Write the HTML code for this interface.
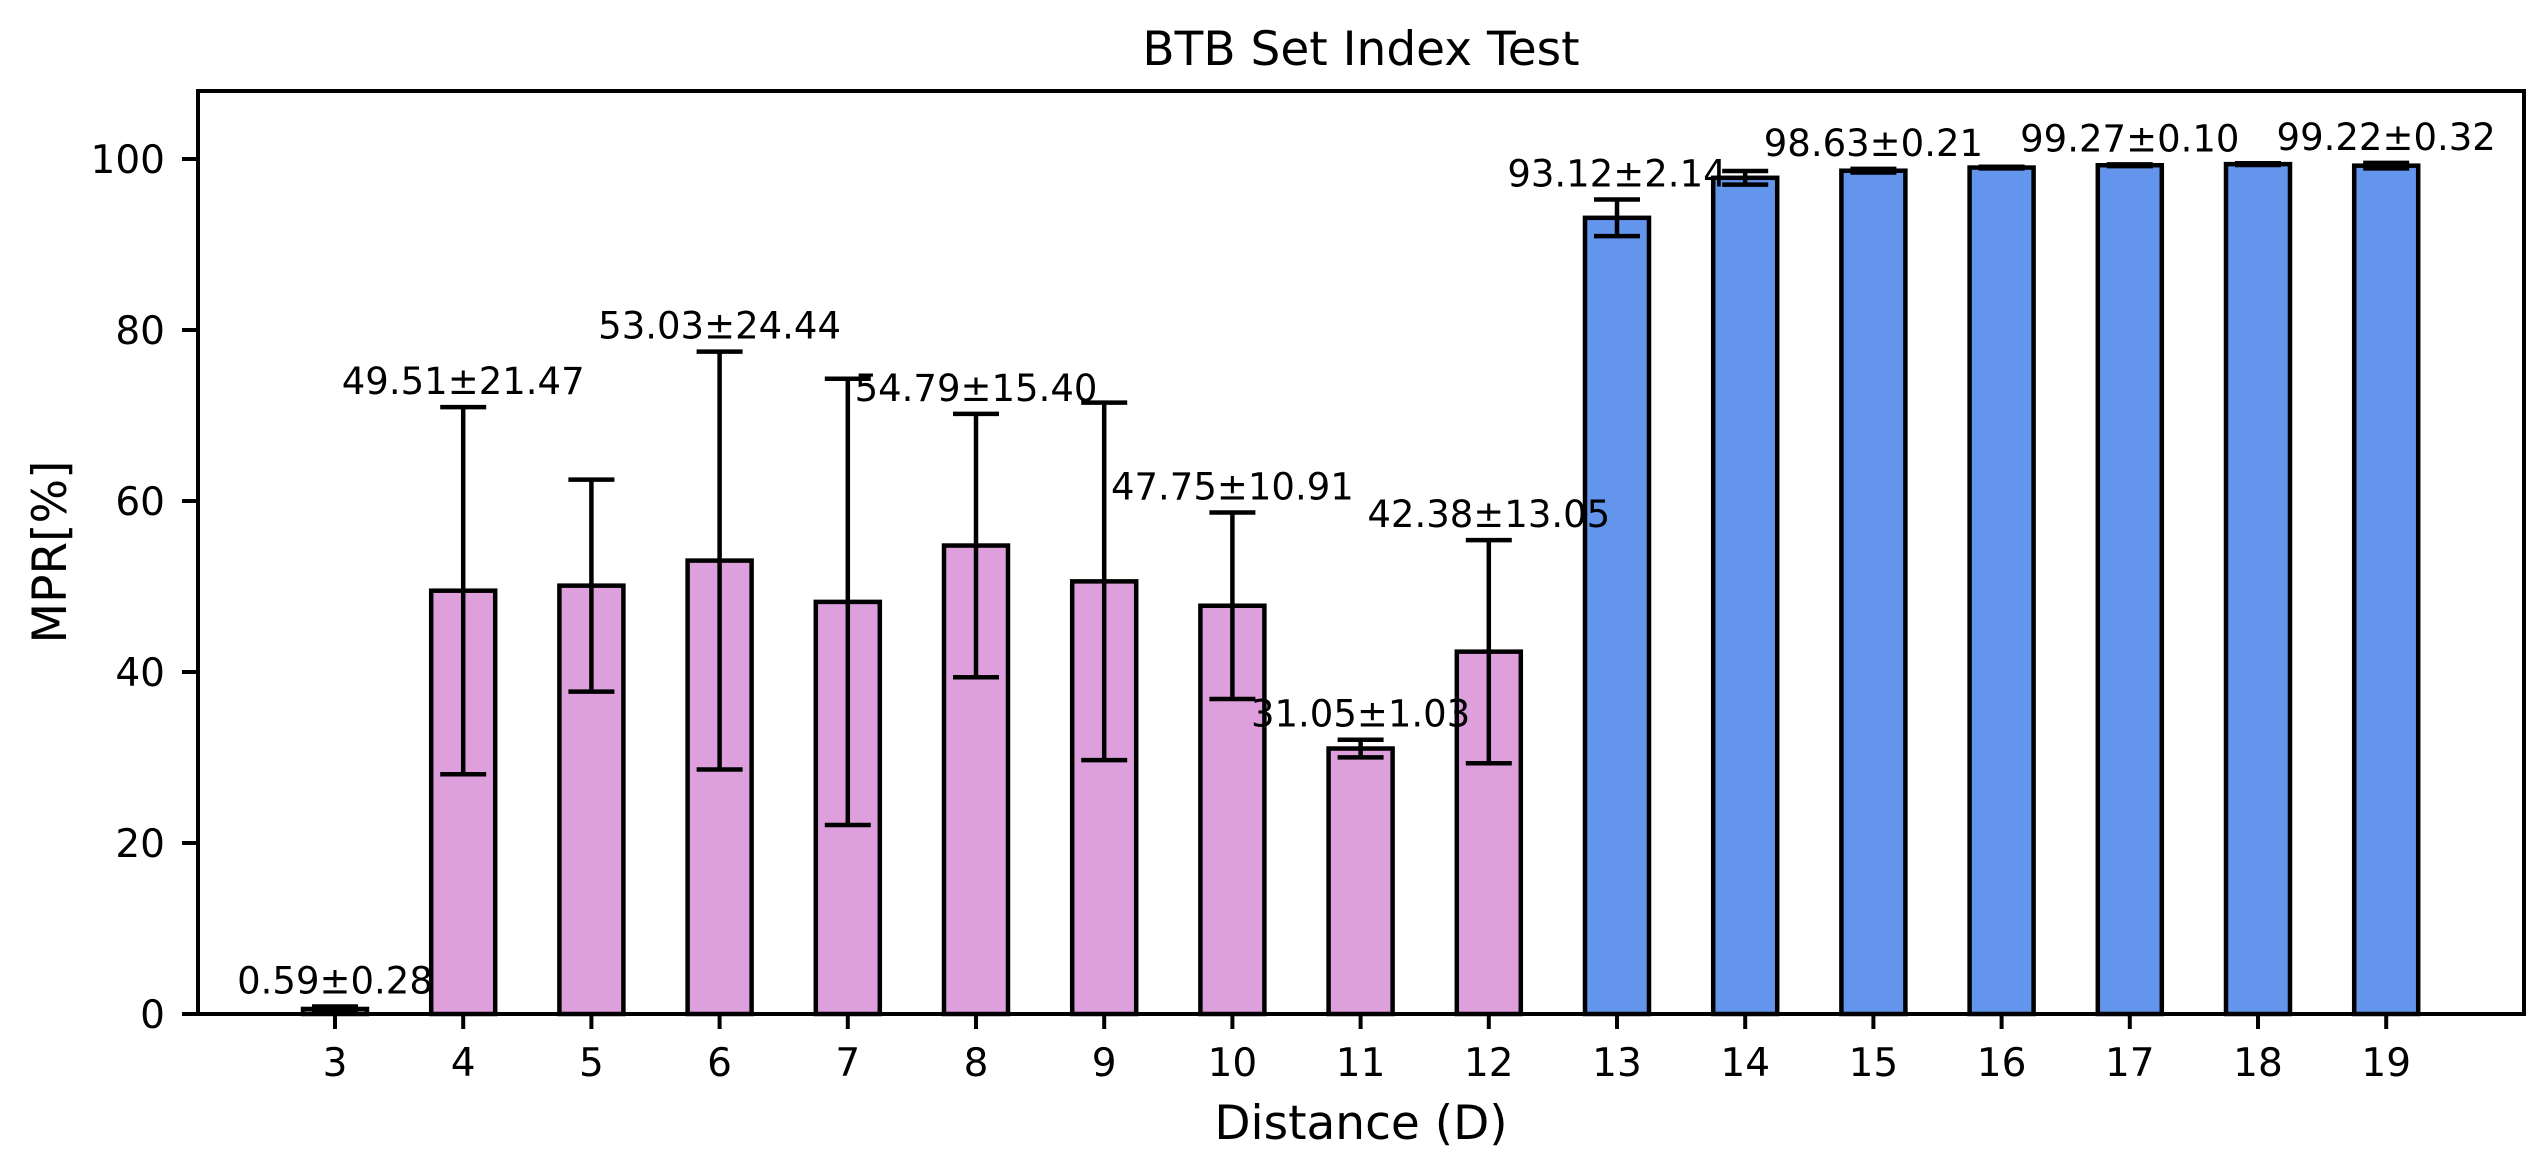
<!DOCTYPE html>
<html><head><meta charset="utf-8"><style>
html,body{margin:0;padding:0;background:#fff;}
svg text{font-family:"DejaVu Sans","Liberation Sans",sans-serif;fill:#000;}
</style></head><body>
<svg id="chart" width="2545" height="1167" xmlns="http://www.w3.org/2000/svg">
<rect x="0" y="0" width="2545" height="1167" fill="#fff"/>
<text x="1361" y="65" font-size="47" text-anchor="middle">BTB Set Index Test</text>
<text x="1361" y="1139" font-size="47" text-anchor="middle">Distance (D)</text>
<text x="0" y="0" font-size="47" text-anchor="middle" transform="translate(66,552) rotate(-90)">MPR[%]</text>
<g id="bars"></g>
<g id="errs"></g>
<g id="labels"></g>
<g id="axes"></g>
</svg>
<script>
const categories = [3,4,5,6,7,8,9,10,11,12,13,14,15,16,17,18,19];
const means = [0.59,49.51,50.1,53.03,48.2,54.79,50.6,47.75,31.05,42.38,93.12,97.8,98.63,99.0,99.27,99.4,99.22];
const errors = [0.28,21.47,12.4,24.44,26.1,15.40,20.9,10.91,1.03,13.05,2.14,0.8,0.21,0.1,0.10,0.1,0.32];
const annotated = [true,true,false,true,false,true,false,true,true,true,true,false,true,false,true,false,true];
const yTicks = [0,20,40,60,80,100];
const blueFrom = 13;

const L=198,R=2524,T=91,B=1014;
const xs = c => 335 + (c-3)*128.2;
const ys = v => B - v*8.55;
const NS="http://www.w3.org/2000/svg";
function mk(tag, attrs, parent){const e=document.createElementNS(NS,tag);for(const k in attrs)e.setAttribute(k,attrs[k]);document.getElementById(parent).appendChild(e);return e;}

categories.forEach((c,i)=>{
  const cx=xs(c), hw=32;
  const r=mk('rect',{x:cx-hw,y:ys(means[i]),width:2*hw,height:B-ys(means[i]),fill:c>=blueFrom?'#6495ED':'#DDA0DD',stroke:'#000','stroke-width':4.5},'bars');
  
  
  const lo=ys(means[i]-errors[i]), hi=ys(means[i]+errors[i]);
  const g=mk('g',{stroke:'#000','stroke-width':4.5},'errs');
  
  
  [[cx,cx,lo,hi],[cx-23,cx+23,lo,lo],[cx-23,cx+23,hi,hi]].forEach(a=>{
    const l=document.createElementNS(NS,'line');
    l.setAttribute('x1',a[0]);l.setAttribute('x2',a[1]);l.setAttribute('y1',a[2]);l.setAttribute('y2',a[3]);
    g.appendChild(l);
  });
  if(annotated[i]){
    const t=mk('text',{x:cx,y:hi-13,'font-size':37,'text-anchor':'middle'},'labels');
    t.textContent=means[i].toFixed(2)+'±'+errors[i].toFixed(2);
    
    
  }
  const tk=mk('line',{x1:cx,x2:cx,y1:B,y2:B+15,stroke:'#000','stroke-width':4},'axes');
  
  
  const tl=mk('text',{x:cx,y:1076,'font-size':39,'text-anchor':'middle'},'axes');
  tl.textContent=String(c);
  
  
});
yTicks.forEach(v=>{
  const tk=mk('line',{x1:L-16,x2:L,y1:ys(v),y2:ys(v),stroke:'#000','stroke-width':4},'axes');
  
  
  const tl=mk('text',{x:165,y:ys(v)+14,'font-size':39,'text-anchor':'end'},'axes');
  tl.textContent=String(v);
  
  
});
const fr=mk('rect',{x:L,y:T,width:R-L,height:B-T,fill:'none',stroke:'#000','stroke-width':4},'axes');


</script>
</body></html>
